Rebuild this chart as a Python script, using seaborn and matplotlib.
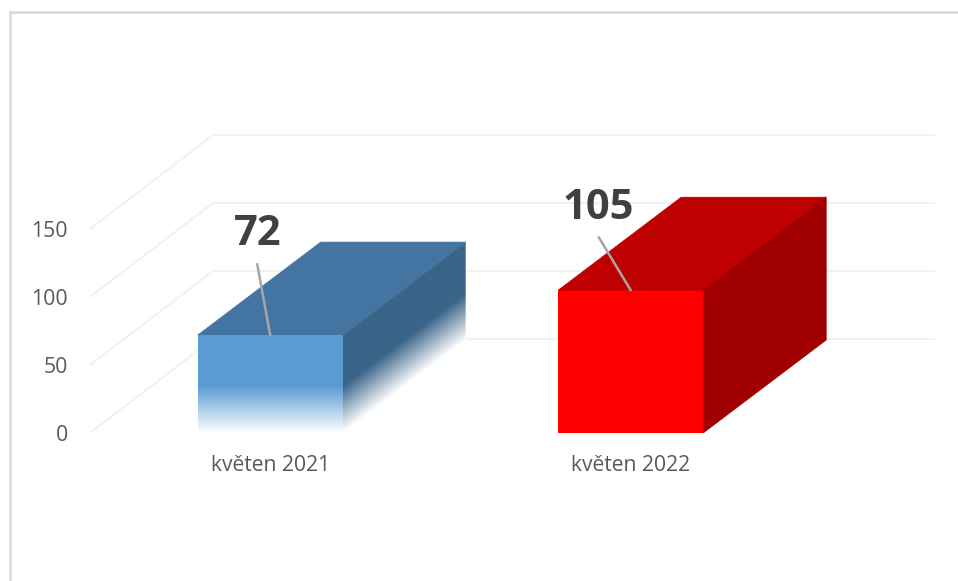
import numpy as np
import pandas as pd
import matplotlib
matplotlib.use("Agg")
import matplotlib.pyplot as plt
from matplotlib.lines import Line2D
from matplotlib.patches import Polygon
from matplotlib.colors import to_rgb
import seaborn as sns

# --- data ---
categories = ["květen 2021", "květen 2022"]
values = [72, 105]
y_ticks = [0, 50, 100, 150]

# --- styles ---
front_colors = ["#5B9BD5", "#FF0000"]
top_colors = ["#4474A1", "#BF0000"]
side_colors = ["#3A6488", "#A00000"]
fade_share = [0.48, 0.0]           # lower share of the bar that fades out to white
label_offsets = [(-13, 101), (-32, 82)]   # px, from the bar's top centre
leader_offsets = [(-13, 71), (-32, 53)]   # px, from the bar's top centre

W, H, DPI = 958, 581, 100
PX_Y = 1.36      # pixels per value unit
PX_X = 360.5     # pixels per category step
LEFT_PAD = 180.2 # pixels from the axes' left edge to the first category
BAR_W = 145 / PX_X
DEPTH_X = 123 / PX_X
DEPTH_Y = 93 / PX_Y
GRID_DEPTH_Y = 94 / PX_Y

sns.set_theme(style="white")
plt.rcParams["font.family"] = ["Open Sans", "DejaVu Sans"]

fig = plt.figure(figsize=(W / DPI, H / DPI), dpi=DPI, facecolor="white")
ax = fig.add_axes([90 / W, (H - 433) / H, (W - 90) / W, 433 / H])
ax.patch.set_alpha(0)

df = pd.DataFrame({"month": categories, "count": values})
sns.barplot(data=df, x="month", y="count", hue="month", palette=front_colors,
            order=categories, hue_order=categories, legend=False,
            width=BAR_W, saturation=1, ax=ax, zorder=3, linewidth=0)

xmin, xmax = -LEFT_PAD / PX_X, (W - 90 - LEFT_PAD) / PX_X
ymax = 433 / PX_Y

# back wall and side-wall gridlines
grid_end = (934 - 90 - LEFT_PAD) / PX_X
for t in y_ticks:
    ax.plot([xmin, xmin + DEPTH_X, grid_end], [t, t + GRID_DEPTH_Y, t + GRID_DEPTH_Y],
            color="#F1F1F1", lw=1.5, zorder=1, solid_joinstyle="miter")


def faded_rgb(color, share):
    c = np.array(to_rgb(color))
    return c[None, None, :] + (1 - c)[None, None, :] * share[:, :, None]


for i, (v, fade) in enumerate(zip(values, fade_share)):
    x0, x1 = i - BAR_W / 2, i + BAR_W / 2
    # top face
    ax.fill([x0, x1, x1 + DEPTH_X, x0 + DEPTH_X], [v, v, v + DEPTH_Y, v + DEPTH_Y],
            color=top_colors[i], lw=0.5, zorder=3)
    side_poly = [(x1, 0), (x1 + DEPTH_X, DEPTH_Y), (x1 + DEPTH_X, v + DEPTH_Y), (x1, v)]
    if fade == 0:
        ax.fill(*zip(*side_poly), color=side_colors[i], lw=0.5, zorder=3)
    else:
        solid_from = v * fade
        # right side face: the fade follows the face's slant
        gx, gy = np.meshgrid(np.linspace(x1, x1 + DEPTH_X, 300),
                             np.linspace(0, v + DEPTH_Y, 500))
        height = gy - (gx - x1) / DEPTH_X * DEPTH_Y
        share = np.clip(1 - height / solid_from, 0, 1)
        im = ax.imshow(faded_rgb(side_colors[i], share), origin="lower", aspect="auto",
                       extent=(x1, x1 + DEPTH_X, 0, v + DEPTH_Y), zorder=3,
                       interpolation="bilinear")
        clip = Polygon(side_poly, closed=True, transform=ax.transData)
        im.set_clip_path(clip)
        # front face fade, over the bar that seaborn drew
        fy = np.linspace(0, v, 400)[:, None]
        fshare = np.clip(1 - fy / solid_from, 0, 1)
        ax.imshow(faded_rgb(front_colors[i], fshare), origin="lower", aspect="auto",
                  extent=(x0, x1, 0, v), zorder=4, interpolation="bilinear")

    # value label and leader line
    ax.annotate(str(v), xy=(i, v), xycoords="data",
                xytext=(label_offsets[i][0] * 72 / DPI, label_offsets[i][1] * 72 / DPI),
                textcoords="offset points", ha="center", va="center",
                fontsize=30, fontweight="bold", color="#404040", zorder=6)
    ax.annotate("", xy=(i, v), xycoords="data",
                xytext=(leader_offsets[i][0] * 72 / DPI, leader_offsets[i][1] * 72 / DPI),
                textcoords="offset points", zorder=6,
                arrowprops=dict(arrowstyle="-", color="#A6A6A6", lw=1.8,
                                shrinkA=0, shrinkB=0))

ax.set_xlim(xmin, xmax)
ax.set_ylim(0, ymax)

# axes
sns.despine(ax=ax, left=True, bottom=True, top=True, right=True)
ax.set_xlabel("")
ax.set_ylabel("")
ax.set_yticks(y_ticks)
ax.set_xticks(range(len(categories)))
ax.set_xticklabels(categories)
ax.tick_params(axis="y", length=0, pad=16, labelsize=15.3, labelcolor="#595959")
ax.tick_params(axis="x", length=0, pad=16, labelsize=15.2, labelcolor="#595959")
ax.grid(False)

# chart frame, open at the right and bottom edges of the picture
for xs, ys in (([9.5, 9.5], [H, 11.5]), ([9.5, W], [11.5, 11.5])):
    fig.add_artist(Line2D([x / W for x in xs], [1 - y / H for y in ys],
                          color="#D9D9D9", lw=1.8, transform=fig.transFigure))

fig.savefig("out.png", dpi=DPI, facecolor="white")
